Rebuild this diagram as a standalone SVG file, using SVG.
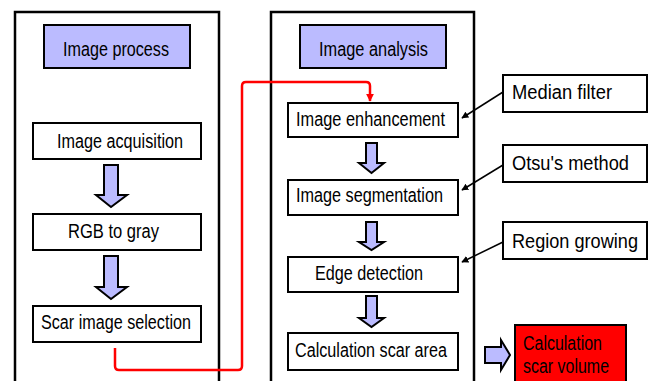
<svg xmlns="http://www.w3.org/2000/svg" width="654" height="381" viewBox="0 0 654 381">
<style>
.panel{fill:#fff;stroke:#000;stroke-width:2.5}
.head{fill:#BBBBFF;stroke:#000;stroke-width:2}
.box{fill:#fff;stroke:#000;stroke-width:2}
.t{font-family:"Liberation Sans",Arial,sans-serif;font-size:20px;fill:#000}
.blk{fill:#BBBBFF;stroke:#000;stroke-width:2;stroke-linejoin:miter}
.ptr{stroke:#000;stroke-width:1.5;fill:none}
</style>
<defs>
<marker id="ah" viewBox="0 0 10 10" refX="9" refY="5" markerWidth="7" markerHeight="7" markerUnits="userSpaceOnUse" orient="auto"><path d="M0,0 L10,5 L0,10 z" fill="#000"/></marker>
<marker id="rh" viewBox="0 0 10 10" refX="9" refY="5" markerWidth="8" markerHeight="8" markerUnits="userSpaceOnUse" orient="auto"><path d="M0,0 L10,5 L0,10 z" fill="#f00"/></marker>
</defs>
<rect width="654" height="381" fill="#fff"/>
<g id="panel-left"><rect class="panel" x="15" y="12" width="204" height="380"/></g>
<g id="panel-right"><rect class="panel" x="271" y="12" width="203" height="380"/></g>
<g id="image-process"><rect class="head" x="44" y="25" width="146" height="43"/><text class="t" x="63" y="56" textLength="106" lengthAdjust="spacingAndGlyphs">Image process</text></g>
<g id="image-analysis"><rect class="head" x="300" y="25" width="146" height="43"/><text class="t" x="319" y="56" textLength="109" lengthAdjust="spacingAndGlyphs">Image analysis</text></g>
<g id="image-acquisition"><rect class="box" x="33" y="123" width="168" height="36"/><text class="t" x="57" y="148" textLength="126" lengthAdjust="spacingAndGlyphs">Image acquisition</text></g>
<g id="rgb-to-gray"><rect class="box" x="33" y="214" width="168" height="36"/><text class="t" x="68" y="238" textLength="91" lengthAdjust="spacingAndGlyphs">RGB to gray</text></g>
<g id="scar-image-selection"><rect class="box" x="33" y="306" width="168" height="36"/><text class="t" x="41" y="329" textLength="150" lengthAdjust="spacingAndGlyphs">Scar image selection</text></g>
<g id="image-enhancement"><rect class="box" x="288" y="103" width="170" height="34"/><text class="t" x="296" y="126" textLength="149" lengthAdjust="spacingAndGlyphs">Image enhancement</text></g>
<g id="image-segmentation"><rect class="box" x="288" y="180" width="170" height="35"/><text class="t" x="296" y="202" textLength="147" lengthAdjust="spacingAndGlyphs">Image segmentation</text></g>
<g id="edge-detection"><rect class="box" x="288" y="257" width="170" height="35"/><text class="t" x="315" y="280" textLength="108" lengthAdjust="spacingAndGlyphs">Edge detection</text></g>
<g id="calculation-scar-area"><rect class="box" x="288" y="333" width="170" height="37"/><text class="t" x="295" y="357" textLength="152" lengthAdjust="spacingAndGlyphs">Calculation scar area</text></g>
<g id="median-filter"><rect class="box" x="503" y="75" width="144" height="37"/><text class="t" x="512" y="99" textLength="100" lengthAdjust="spacingAndGlyphs">Median filter</text></g>
<g id="otsu-method"><rect class="box" x="503" y="145" width="144" height="37"/><text class="t" x="512" y="170" textLength="117" lengthAdjust="spacingAndGlyphs">Otsu's method</text></g>
<g id="region-growing"><rect class="box" x="503" y="222" width="144" height="37"/><text class="t" x="512" y="248" textLength="126" lengthAdjust="spacingAndGlyphs">Region growing</text></g>
<g id="calculation-scar-volume"><rect x="515" y="325" width="111" height="70" fill="#f00" stroke="#000" stroke-width="2"/><text class="t" x="523" y="350" textLength="79" lengthAdjust="spacingAndGlyphs">Calculation</text><text class="t" x="523" y="373" textLength="86" lengthAdjust="spacingAndGlyphs">scar volume</text></g>
<g id="connectors">
<path class="blk" d="M104,165 H118 V195 H127 L111,207 L96,195 H104 Z"/>
<path class="blk" d="M104,256 H118 V287 H127 L111,299 L96,287 H104 Z"/>
<path class="blk" d="M366,143 H377 V163 H384 L371.5,173 L359,163 H366 Z"/>
<path class="blk" d="M366,222 H377 V242 H384 L371.5,250 L359,242 H366 Z"/>
<path class="blk" d="M366,296 H377 V318 H384 L371.5,327 L359,318 H366 Z"/>
<path class="blk" d="M485,347 H501 V340 L510,355 L501,370 V363 H485 Z"/>
<path d="M115,348 V366 Q115,370 119,370 H238 Q242,370 242,366 V86 Q242,82 246,82 H366 Q370,82 370,86 V101" fill="none" stroke="#f00" stroke-width="2.5" marker-end="url(#rh)"/>
<line class="ptr" x1="503" y1="92" x2="462" y2="118" marker-end="url(#ah)"/>
<line class="ptr" x1="503" y1="165" x2="462" y2="190" marker-end="url(#ah)"/>
<line class="ptr" x1="503" y1="242" x2="462" y2="262" marker-end="url(#ah)"/>
</g>
</svg>
